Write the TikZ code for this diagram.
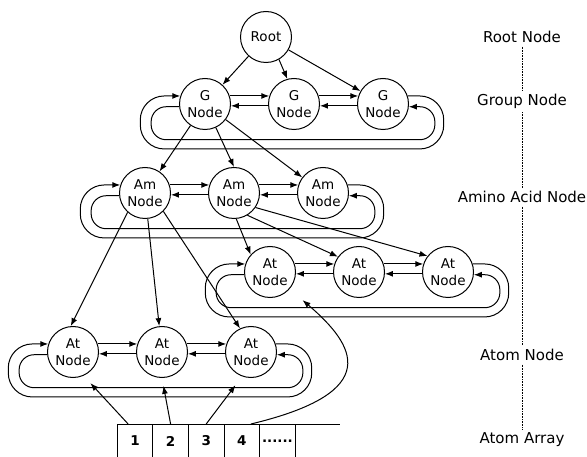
\documentclass[tikz,border=0pt]{standalone}
\usepackage{fontspec}
\setmainfont{DejaVu Sans}
\usetikzlibrary{positioning, arrows.meta}

\begin{document}
\begin{tikzpicture}[
    x=1pt, y=-1pt,
    node distance=37pt,
    line width=1pt,
    tree/.style={draw, circle, minimum size=51pt, inner sep=0pt, align=center, font=\fontsize{13.5}{17.5}\selectfont},
    cell/.style={draw, rectangle, minimum width=35.6pt, minimum height=34pt, inner sep=0pt, outer sep=0pt, font=\fontsize{13.5}{15}\selectfont\bfseries},
    level/.style={font=\fontsize{15}{18}\selectfont},
    >={Latex[length=8pt, width=6pt]}
]
  \useasboundingbox (0,0) rectangle (587,457);

  % tree levels
  \node[tree] (root) at (266,37) {Root};
  \node[tree] (g1) at (205,104) {G\\Node};
  \node[tree, right=of g1] (g2) {G\\Node};
  \node[tree, right=of g2] (g3) {G\\Node};
  \node[tree] (m1) at (145,193) {Am\\Node};
  \node[tree, right=of m1] (m2) {Am\\Node};
  \node[tree, right=of m2] (m3) {Am\\Node};
  \node[tree] (u1) at (270,272) {At\\Node};
  \node[tree, right=of u1] (u2) {At\\Node};
  \node[tree, right=of u2] (u3) {At\\Node};
  \node[tree] (l1) at (73,352) {At\\Node};
  \node[tree, right=of l1] (l2) {At\\Node};
  \node[tree, right=of l2] (l3) {At\\Node};

  % atom array
  \node[cell] (c1) at (135,441) {1};
  \node[cell, right=0pt of c1] (c2) {2};
  \node[cell, right=0pt of c2] (c3) {3};
  \node[cell, right=0pt of c3] (c4) {4};
  \node[cell, right=0pt of c4] (c5) {......};
  \draw (c5.north east) -- ++(45,0);

  % level names
  \node[level] (lroot) at (522,37) {Root Node};
  \node[level] (lgroup) at (522,101) {Group Node};
  \node[level] (lamino) at (522,197) {Amino Acid Node};
  \node[level] (latom) at (522,355) {Atom Node};
  \node[level] (larray) at (522,440) {Atom Array};
  \draw[densely dotted, line width=0.6pt] (lroot) -- (lgroup);
  \draw[densely dotted, line width=0.6pt] (lgroup) -- (lamino);
  \draw[densely dotted, line width=0.6pt] (lamino) -- (latom);
  \draw[densely dotted, line width=0.6pt] (latom) -- (larray);

  % parent to child
  \draw[->] (root) -- (g1);
  \draw[->] (root.-60) -- (g2.105);
  \draw[->] (root) -- (g3);
  \draw[->] (g1) -- (m1);
  \draw[->] (g1) -- (m2.north);
  \draw[->] (g1) -- (m3);
  \draw[->] (m1.228) -- (l1.95);
  \draw[->] (m1) -- (l2);
  \draw[->] (m1.-45) -- (l3.115);
  \draw[->] (m2.-85) -- (u1.138);
  \draw[->] (m2.-59) -- (u2.144);
  \draw[->] (m2.-34) -- (u3.142);

  % siblings
  \foreach \p/\q in {g1/g2, g2/g3, m1/m2, m2/m3, u1/u2, u2/u3, l1/l2, l2/l3} {
    \draw[->] (\p.18) -- (\q.162);
    \draw[->] (\q.184) -- (\p.356);
  }

  % ring links
  \foreach \a/\c in {g1/g3, m1/m3, u1/u3, l1/l3} {
    \draw[->, rounded corners=24pt] (\c.18) -- ++(36,0) -- ++(0,53) -| ([xshift=-40pt]\a.162) -- (\a.162);
    \draw[->, rounded corners=15pt] (\a.186) -- ++(-28,0) -- ++(0,33) -| ([xshift=26pt]\c.354) -- (\c.354);
  }

  % array entries
  \draw[->, shorten >=10pt] (c1.112) -- (l1.-66);
  \draw[->, shorten >=8pt] (c2.north) -- (l2.south);
  \draw[->, shorten >=11pt] (c3.north) -- (l3.-110);
  \draw[->, shorten >=17pt] (c4.62) .. controls (385,392) and (355,345) .. (u1.-41);
\end{tikzpicture}
\end{document}
